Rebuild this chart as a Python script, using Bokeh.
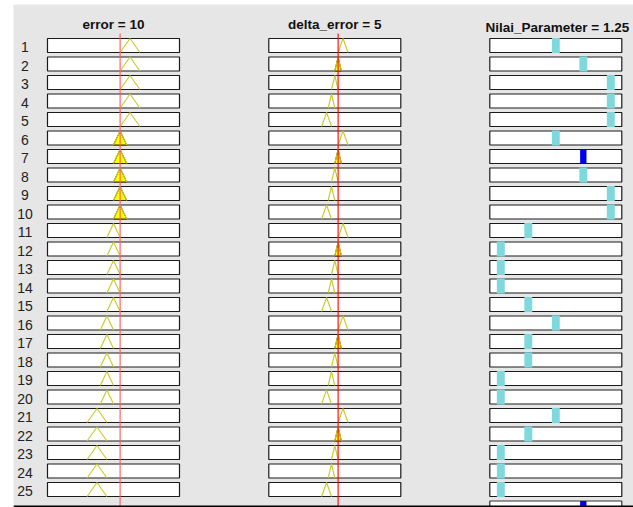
from bokeh.plotting import figure
from bokeh.models import Range1d, Span
from bokeh.core.properties import value
from bokeh.embed import file_html
from bokeh.resources import INLINE

# ---------------- data ----------------
input_names = ["error", "delta_error"]
input_values = [10, 5]
input_ranges = [(-100, 100), (-100, 100)]
output_name = "Nilai_Parameter"
output_range = (0.4, 1.6)

error_mfs = [[10, 25, 40], [0, 10, 20], [-10, 0, 10], [-20, -10, 0], [-40, -25, -10]]
delta_mfs = [[5, 12.5, 20], [0, 5, 10], [-5, 0, 5], [-10, -5, 0], [-20, -12.5, -5]]

rule_ids = list(range(1, 26))
rule_error_mf = [0] * 5 + [1] * 5 + [2] * 5 + [3] * 5 + [4] * 5
rule_delta_mf = [0, 1, 2, 3, 4] * 5
rule_output = [1.0, 1.25, 1.5, 1.5, 1.5,
               1.0, 1.25, 1.25, 1.5, 1.5,
               0.75, 0.5, 0.5, 0.5, 0.75,
               1.0, 0.75, 0.75, 0.5, 0.5,
               1.0, 0.75, 0.5, 0.5, 0.5]

# ---------------- layout constants ----------------
W, H = 633, 507
PX0, PX1 = 13, 633          # x of plot frame
PY0, PY1 = 4, 507           # y of plot frame
ROW0_PY, ROW_PITCH = 45, 18.5
HH = 7 / ROW_PITCH          # half box height in row units
col_px = [(47, 179), (268.3, 400.3), (489.3, 621.3)]
BG = "#e6e6e6"
MF_LINE = "#c9c927"
FILL = "#ffff00"
CYAN = "#7fd8dc"
BLUE = "#0000ee"
FONT = "Liberation Sans"


def tri(x, a, b, c):
    if x <= a or x >= c:
        return 0.0
    if x <= b:
        return (x - a) / (b - a) if b > a else 1.0
    return (c - x) / (c - b) if c > b else 1.0


def col_range(lo, hi, a, b):
    s = (hi - lo) / (b - a)
    return Range1d(lo - (a - PX0) * s, hi + (PX1 - b) * s)


def row_y(py):
    return 1 + (py - ROW0_PY) / ROW_PITCH


p = figure(width=W, height=H, output_backend="svg", toolbar_location=None,
           x_range=Range1d(PX0, PX1),
           y_range=Range1d(row_y(PY1), row_y(PY0)),
           min_border_left=PX0, min_border_right=0, min_border_top=PY0, min_border_bottom=0,
           background_fill_color=BG, border_fill_color="white",
           outline_line_color=None)
p.xaxis.visible = False
p.yaxis.visible = False
p.grid.visible = False

names = ["c0", "c1", "c2"]
p.extra_x_ranges = {
    "c0": col_range(*input_ranges[0], *col_px[0]),
    "c1": col_range(*input_ranges[1], *col_px[1]),
    "c2": col_range(*output_range, *col_px[2]),
}
all_ranges = [input_ranges[0], input_ranges[1], output_range]
mfsets = [error_mfs, delta_mfs]
rule_mf = [rule_error_mf, rule_delta_mf]

# firing strengths
w = []
for r in range(25):
    m1 = tri(input_values[0], *error_mfs[rule_error_mf[r]])
    m2 = tri(input_values[1], *delta_mfs[rule_delta_mf[r]])
    w.append(min(m1, m2))
out_val = sum(wi * z for wi, z in zip(w, rule_output)) / sum(w)

# boxes
for k in range(3):
    lo, hi = all_ranges[k]
    p.quad(left=[lo] * 25, right=[hi] * 25,
           top=[i - HH for i in rule_ids], bottom=[i + HH for i in rule_ids],
           fill_color="white", line_color="#1a1a1a", line_width=1.2,
           x_range_name=names[k])

# aggregate box for output
lo, hi = output_range
p.quad(left=[lo], right=[hi], top=[26 - HH], bottom=[26 + HH],
       fill_color="white", line_color="#333333", line_width=1.2, x_range_name="c2")

# input MFs
for k in range(2):
    xs, ys, fx, fy = [], [], [], []
    for r, i in enumerate(rule_ids):
        a, b, c = mfsets[k][rule_mf[k][r]]
        base, top = i + HH, i - HH
        xs.append([a, b, c])
        ys.append([base, top, base])
        mu = tri(input_values[k], a, b, c)
        if mu > 0:
            lvl = base - 2 * HH * mu
            fx.append([a, a + (b - a) * mu, c - (c - b) * mu, c])
            fy.append([base, lvl, lvl, base])
    if fx:
        p.patches(fx, fy, fill_color=FILL, line_color="#3a2a00", line_width=1,
                  x_range_name=names[k])
    p.multi_line(xs, ys, line_color=MF_LINE, line_width=1.1, x_range_name=names[k])

# output bars
bw = 0.036
cl, cr, ct, cb = [], [], [], []
bl, br, bt, bb = [], [], [], []
for r, i in enumerate(rule_ids):
    z = rule_output[r]
    if w[r] > 0:
        bl.append(z - bw * 0.8); br.append(z + bw * 0.8)
        bt.append(i + HH - 2 * HH * w[r]); bb.append(i + HH)
    else:
        cl.append(z - bw); cr.append(z + bw)
        ct.append(i - HH - 0.03); cb.append(i + HH + 0.03)
p.quad(left=cl, right=cr, top=ct, bottom=cb, fill_color=CYAN, line_color=None,
       x_range_name="c2")
p.quad(left=bl, right=br, top=bt, bottom=bb, fill_color=BLUE, line_color=None,
       x_range_name="c2")
p.quad(left=[out_val - bw * 0.8], right=[out_val + bw * 0.8], top=[26 - HH],
       bottom=[26 + HH], fill_color=BLUE, line_color=None, x_range_name="c2")

# red input lines
red_cols = ["#ff5a5a", "#ff0000"]
for k in range(2):
    p.segment(x0=[input_values[k]], x1=[input_values[k]], y0=[row_y(33)], y1=[27],
              line_color=red_cols[k], line_width=1.1, x_range_name=names[k])

# titles
titles = [f"{input_names[0]} = {input_values[0]:g}",
          f"{input_names[1]} = {input_values[1]:g}",
          f"{output_name} = {out_val:g}"]
title_y = [row_y(24), row_y(24), row_y(27)]
for k in range(3):
    lo, hi = all_ranges[k]
    p.text(x=[(lo + hi) / 2 + (hi - lo) * (0.012 if k == 2 else 0)], y=[title_y[k]],
           text=[titles[k]],
           text_font=value(FONT), text_font_style="bold", text_font_size="13.5px",
           text_align="center", text_baseline="middle", text_color="#111111",
           x_range_name=names[k])

# row labels
p.text(x=[24.5] * 25, y=[i + 0.1 for i in rule_ids], text=[str(i) for i in rule_ids],
       text_font=value(FONT), text_font_size="14px", text_align="center",
       text_baseline="middle", text_color="#222222")

# bottom frame line
p.add_layout(Span(location=row_y(506), dimension="width", line_color="black",
                  line_width=2))

open("out.html", "w").write(file_html(p, INLINE))
